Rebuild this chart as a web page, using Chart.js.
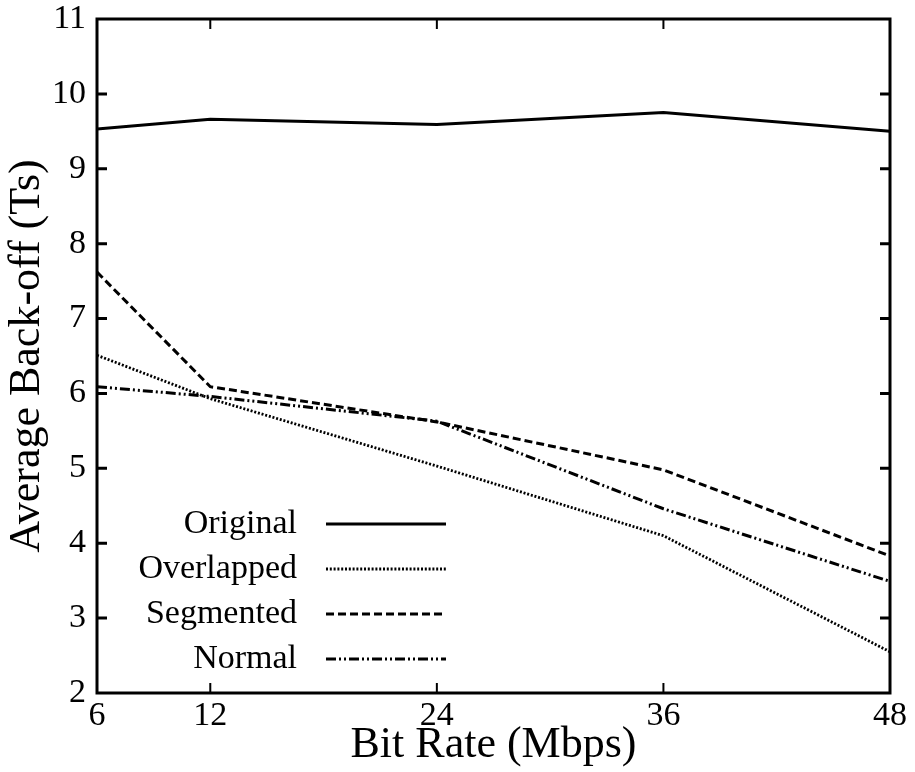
<!DOCTYPE html>
<html>
<head>
<meta charset="utf-8">
<title>Average Back-off vs Bit Rate</title>
<script src="https://cdn.jsdelivr.net/npm/chart.js@4"></script>
<style>
    html, body { margin: 0; padding: 0; background: #fff; }
    #chart { display: block; }
</style>
</head>
<body>
<canvas id="chart" width="915" height="772"></canvas>
<script>
// Chart data
const bitRates = [6, 12, 24, 36, 48];
const yTicks = [2, 3, 4, 5, 6, 7, 8, 9, 10, 11];
const seriesNames = ['Original', 'Overlapped', 'Segmented', 'Normal'];
const original = [9.53, 9.66, 9.59, 9.75, 9.50];
const overlapped = [6.51, 5.93, 5.03, 4.10, 2.55];
const segmented = [7.62, 6.09, 5.62, 4.98, 3.83];
const normal = [6.09, 5.96, 5.63, 4.46, 3.49];

(function() {
    'use strict';

    const FONT = '"Liberation Serif", "Times New Roman", serif';

    // Line styles per series
    const styles = [
        { dash: [], width: 3 },
        { dash: [2, 1.8], width: 2.8 },
        { dash: [8, 4], width: 3 },
        { dash: [10, 3, 2, 3, 2, 3], width: 3 }
    ];

    const seriesValues = [original, overlapped, segmented, normal];

    const datasets = seriesNames.map((name, i) => ({
        label: name,
        data: bitRates.map((x, j) => ({ x: x, y: seriesValues[i][j] })),
        borderColor: '#000',
        borderWidth: styles[i].width,
        borderDash: styles[i].dash,
        borderCapStyle: 'butt',
        pointRadius: 0,
        tension: 0,
        fill: false
    }));

    // Frame, inward tick marks and the legend (text left of the sample line)
    const framePlugin = {
        id: 'frame',
        afterDraw(chart) {
            const { ctx, chartArea: a, scales } = chart;
            ctx.save();
            ctx.strokeStyle = '#000';
            ctx.setLineDash([]);

            // x ticks, bottom and top
            ctx.lineWidth = 2;
            bitRates.slice(1, -1).forEach(v => {
                const px = scales.x.getPixelForValue(v);
                ctx.beginPath();
                ctx.moveTo(px, a.bottom); ctx.lineTo(px, a.bottom - 10);
                ctx.moveTo(px, a.top); ctx.lineTo(px, a.top + 10);
                ctx.stroke();
            });

            // y ticks, left and right
            ctx.lineWidth = 3;
            yTicks.slice(1, -1).forEach(v => {
                const py = scales.y.getPixelForValue(v);
                ctx.beginPath();
                ctx.moveTo(a.left, py); ctx.lineTo(a.left + 10, py);
                ctx.moveTo(a.right, py); ctx.lineTo(a.right - 10, py);
                ctx.stroke();
            });

            ctx.lineWidth = 3;
            ctx.strokeRect(a.left, a.top, a.right - a.left, a.bottom - a.top);

            // Legend
            ctx.font = '34px ' + FONT;
            ctx.fillStyle = '#000';
            ctx.textAlign = 'right';
            ctx.textBaseline = 'middle';
            chart.data.datasets.forEach((ds, i) => {
                const y = 524 + i * 45;
                ctx.fillText(ds.label, 297, y);
                ctx.lineWidth = ds.borderWidth;
                ctx.setLineDash(ds.borderDash);
                ctx.lineCap = 'butt';
                ctx.beginPath();
                ctx.moveTo(326, y);
                ctx.lineTo(446, y);
                ctx.stroke();
            });
            ctx.restore();
        }
    };

    new Chart(document.getElementById('chart'), {
        type: 'line',
        data: { datasets: datasets },
        plugins: [framePlugin],
        options: {
            responsive: false,
            animation: false,
            layout: { padding: { top: 19, right: 25, left: 0, bottom: 0 } },
            plugins: {
                legend: { display: false },
                tooltip: { enabled: false }
            },
            scales: {
                x: {
                    type: 'linear',
                    min: 6,
                    max: 48,
                    afterBuildTicks: scale => {
                        scale.ticks = bitRates.map(v => ({ value: v }));
                    },
                    afterFit: scale => {
                        scale.height = 79;
                        scale.paddingLeft = 0;
                        scale.paddingRight = 0;
                    },
                    grid: { display: false, drawTicks: false },
                    border: { display: false },
                    ticks: {
                        color: '#000',
                        padding: 3,
                        maxRotation: 0,
                        autoSkip: false,
                        font: { family: FONT, size: 34 }
                    },
                    title: {
                        display: true,
                        text: 'Bit Rate (Mbps)',
                        color: '#000',
                        padding: { top: 0, bottom: 0 },
                        font: { family: FONT, size: 44 }
                    }
                },
                y: {
                    min: 2,
                    max: 11,
                    afterBuildTicks: scale => {
                        scale.ticks = yTicks.map(v => ({ value: v }));
                    },
                    afterFit: scale => {
                        scale.width = 97;
                        scale.paddingTop = 0;
                        scale.paddingBottom = 0;
                    },
                    grid: { display: false, drawTicks: false },
                    border: { display: false },
                    ticks: {
                        color: '#000',
                        padding: 11,
                        font: { family: FONT, size: 34 }
                    },
                    title: {
                        display: true,
                        text: 'Average Back-off (Ts)',
                        color: '#000',
                        padding: { top: 1, bottom: 0 },
                        font: { family: FONT, size: 44 }
                    }
                }
            }
        }
    });
})();
</script>
</body>
</html>
